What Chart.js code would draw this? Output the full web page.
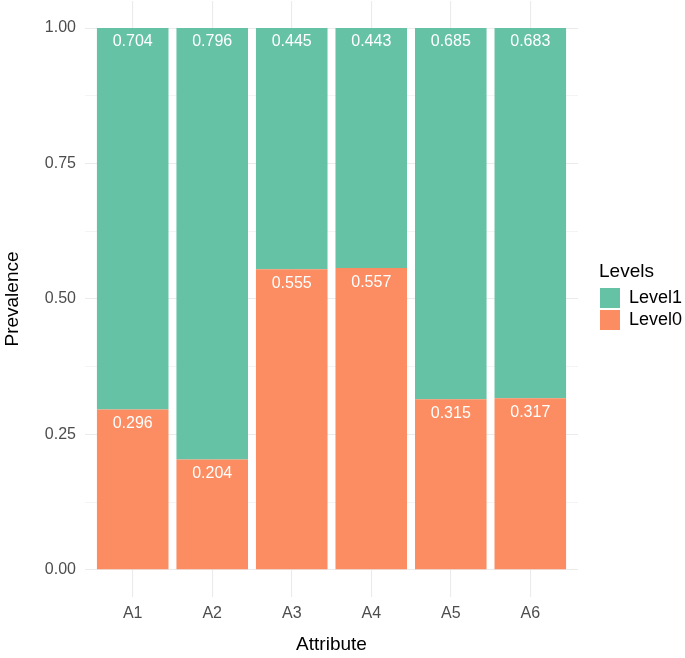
<!DOCTYPE html>
<html>
<head>
<meta charset="utf-8">
<script src="https://cdn.jsdelivr.net/npm/chart.js@4.4.1/dist/chart.umd.min.js"></script>
<style>
  html, body { margin: 0; padding: 0; background: #ffffff; }
  #wrap { width: 685px; height: 658px; }
</style>
</head>
<body>
<div id="wrap"><canvas id="c" width="685" height="658"></canvas></div>
<script>
const categories = ["A1", "A2", "A3", "A4", "A5", "A6"];
const level0 = [0.296, 0.204, 0.555, 0.557, 0.315, 0.317];
const level1 = [0.704, 0.796, 0.445, 0.443, 0.685, 0.683];
const yTicks = [0, 0.125, 0.25, 0.375, 0.5, 0.625, 0.75, 0.875, 1.0];
const yMajor = [0, 0.25, 0.5, 0.75, 1.0];
const legendTitle = "Levels";
const xTitle = "Attribute";
const yTitle = "Prevalence";

const FONT = "'Liberation Sans', Arial, Helvetica, sans-serif";

const toPoints = arr => arr.map((v, i) => ({ x: i + 1, y: v }));

const valueLabels = {
  id: 'valueLabels',
  afterDatasetsDraw(chart) {
    const ctx = chart.ctx;
    ctx.save();
    ctx.fillStyle = '#ffffff';
    ctx.font = '16px ' + FONT;
    ctx.textAlign = 'center';
    ctx.textBaseline = 'middle';
    chart.data.datasets.forEach((ds, di) => {
      const meta = chart.getDatasetMeta(di);
      meta.data.forEach((el, i) => {
        const v = ds.data[i].y;
        ctx.fillText(v.toFixed(3), el.x, el.y + 14);
      });
    });
    ctx.restore();
  }
};

const customLegend = {
  id: 'customLegend',
  afterDraw(chart) {
    const ctx = chart.ctx;
    ctx.save();
    ctx.fillStyle = '#000000';
    ctx.textAlign = 'left';
    ctx.textBaseline = 'middle';
    ctx.font = '19px ' + FONT;
    ctx.fillText(legendTitle, 599, 272);
    const order = [1, 0];
    order.forEach((di, k) => {
      const ds = chart.data.datasets[di];
      const y0 = 288 + k * 22;
      ctx.fillStyle = ds.backgroundColor;
      ctx.fillRect(600, y0, 20, 20);
      ctx.fillStyle = '#000000';
      ctx.font = '18px ' + FONT;
      ctx.fillText(ds.label, 629, y0 + 10);
    });
    ctx.restore();
  }
};

new Chart(document.getElementById('c'), {
  type: 'bar',
  data: {
    datasets: [
      { label: 'Level0', data: toPoints(level0), backgroundColor: '#FC8D62', borderWidth: 0 },
      { label: 'Level1', data: toPoints(level1), backgroundColor: '#66C2A5', borderWidth: 0 }
    ]
  },
  options: {
    responsive: false,
    animation: false,
    layout: { padding: { top: 1, left: 0, right: 107, bottom: 0 } },
    datasets: { bar: { barPercentage: 0.9, categoryPercentage: 1.0 } },
    plugins: {
      legend: { display: false },
      tooltip: { enabled: false }
    },
    scales: {
      x: {
        type: 'linear',
        stacked: true,
        offset: false,
        min: 0.4,
        max: 6.6,
        afterBuildTicks: s => { s.ticks = categories.map((c, i) => ({ value: i + 1 })); },
        afterFit: s => { s.height = 61; s.paddingLeft = 0; s.paddingRight = 0; },
        grid: { color: '#EBEBEB', lineWidth: 1.1, drawTicks: false, offset: false },
        border: { display: false },
        ticks: {
          autoSkip: false, maxRotation: 0, minRotation: 0,
          padding: 7,
          color: '#4D4D4D',
          font: { family: FONT, size: 16 },
          callback: v => categories[Math.round(v) - 1] || ''
        },
        title: {
          display: true, text: xTitle, color: '#000000',
          font: { family: FONT, size: 19, lineHeight: 1.2 },
          padding: { top: 0, bottom: 2 }
        }
      },
      y: {
        type: 'linear',
        stacked: true,
        min: -0.05,
        max: 1.05,
        afterBuildTicks: s => { s.ticks = yTicks.map(v => ({ value: v })); },
        afterFit: s => { s.width = 85; s.paddingTop = 0; s.paddingBottom = 0; },
        grid: {
          color: '#EBEBEB',
          lineWidth: c => (yMajor.includes(c.tick.value) ? 1.1 : 0.55),
          drawTicks: false
        },
        border: { display: false },
        ticks: {
          autoSkip: false,
          padding: 9,
          color: '#4D4D4D',
          font: { family: FONT, size: 16 },
          callback: v => (yMajor.includes(v) ? v.toFixed(2) : '')
        },
        title: {
          display: true, text: yTitle, color: '#000000',
          font: { family: FONT, size: 19, lineHeight: 1.2 },
          padding: { top: 1, bottom: 0 }
        }
      }
    }
  },
  plugins: [valueLabels, customLegend]
});
</script>
</body>
</html>
